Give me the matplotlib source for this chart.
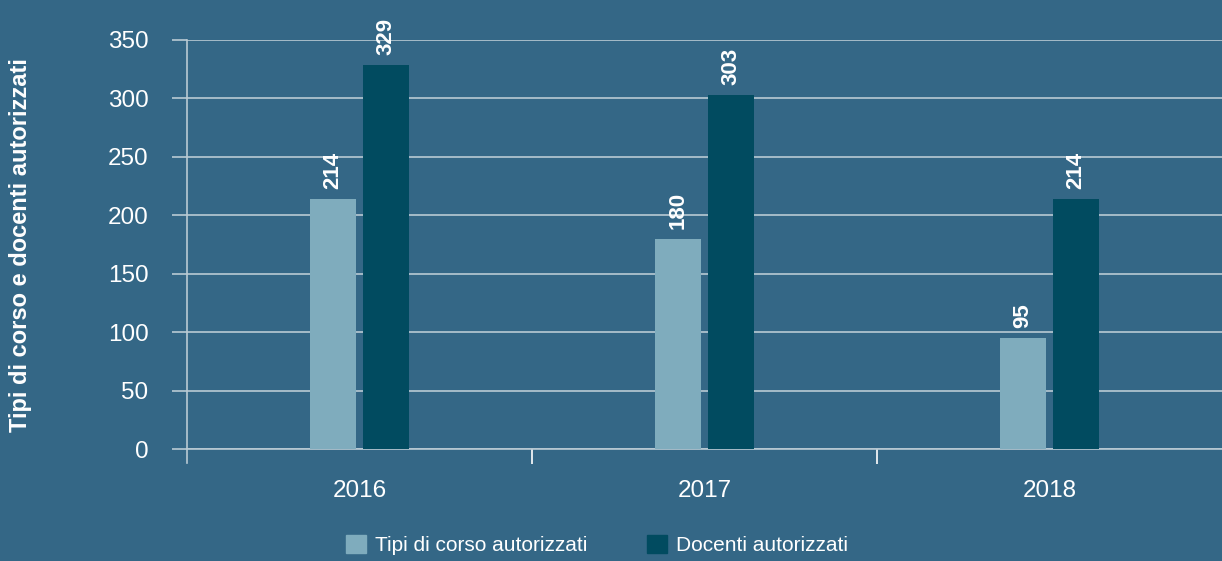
import numpy as np
import matplotlib.pyplot as plt
from matplotlib.patches import Patch

years = ['2016', '2017', '2018']
tipi_corso = [214, 180, 95]
docenti = [329, 303, 214]

bg = '#346786'
light = '#7facbd'
dark = '#014b60'
grid = '#b9cad4'

plt.rcParams['font.family'] = ['Liberation Sans', 'DejaVu Sans']

fig = plt.figure(figsize=(12.22, 5.61), dpi=100, facecolor=bg)
ax = fig.add_axes([187 / 1222, 1 - 449 / 561, 1035 / 1222, 409 / 561])
ax.set_facecolor(bg)

x = np.arange(len(years))
w = 0.134
off = 0.077
b1 = ax.bar(x - off, tipi_corso, w, color=light, zorder=3)
b2 = ax.bar(x + off, docenti, w, color=dark, zorder=3)

for bars, vals in ((b1, tipi_corso), (b2, docenti)):
    for r, v in zip(bars, vals):
        ax.annotate(str(v), (r.get_x() + r.get_width() / 2, v), xytext=(0, 7),
                    textcoords='offset points', rotation=90, ha='center', va='bottom',
                    color='white', fontsize=16, fontweight='bold', zorder=4)

ax.set_xlim(-0.5, 2.5)
ax.set_ylim(0, 350)
ax.set_yticks(range(0, 351, 50))
ax.yaxis.grid(True, color=grid, linewidth=1.2, zorder=0)
ax.set_axisbelow(True)

ax.set_xticks(x)
ax.set_xticklabels(years)
ax.set_xticks([0.5, 1.5], minor=True)
ax.tick_params(axis='x', which='major', length=0, pad=22, labelsize=17.5, colors='white')
ax.tick_params(axis='x', which='minor', length=10.8, width=1.2, color='white')
ax.tick_params(axis='y', length=10.8, width=1.2, color=grid, pad=17, labelsize=17.5,
               labelcolor='white')

for s in ['top', 'right']:
    ax.spines[s].set_visible(False)
ax.spines['left'].set_color(grid)
ax.spines['left'].set_linewidth(1.2)
ax.spines['left'].set_bounds(-14 * 350 / 409, 350)
ax.spines['bottom'].set_color(grid)
ax.spines['bottom'].set_linewidth(1.2)

fig.text(21 / 1222, 1 - 245 / 561, 'Tipi di corso e docenti autorizzati', rotation=90,
         ha='center', va='center', color='white', fontsize=17, fontweight='bold')

handles = [Patch(color=light), Patch(color=dark)]
fig.legend(handles, ['Tipi di corso autorizzati', 'Docenti autorizzati'],
           loc='center', bbox_to_anchor=(597 / 1222, 1 - 545 / 561), ncol=2,
           frameon=False, fontsize=15, labelcolor='white', handlelength=0.95,
           handleheight=0.95, handletextpad=0.4, columnspacing=2.9,
           borderaxespad=0, borderpad=0)

fig.savefig('out.png', dpi=100, facecolor=bg)
